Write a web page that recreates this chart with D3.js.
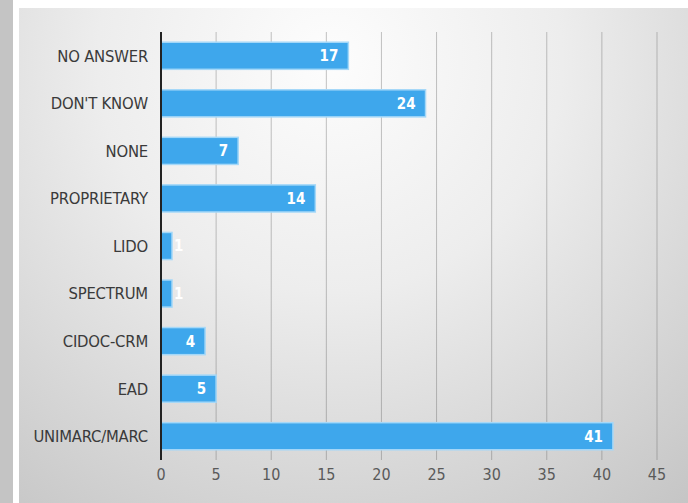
<!DOCTYPE html>
<html>
<head>
<meta charset="utf-8">
<script src="https://cdn.jsdelivr.net/npm/d3@7"></script>
<style>
  body { margin: 0; background: #fff; }
  svg { display: block; }
</style>
</head>
<body>
<div id="chart"></div>
<script>
var categories = ["NO ANSWER", "DON'T KNOW", "NONE", "PROPRIETARY", "LIDO", "SPECTRUM", "CIDOC-CRM", "EAD", "UNIMARC/MARC"];
var counts = [17, 24, 7, 14, 1, 1, 4, 5, 41];
var ticks = [0, 5, 10, 15, 20, 25, 30, 35, 40, 45];

var W = 688, H = 503;

var svg = d3.select("#chart")
  .append("svg")
  .attr("width", W)
  .attr("height", H);

// slide background: radial glow fading to grey
var defs = svg.append("defs");
var grad = defs.append("radialGradient")
  .attr("id", "bg")
  .attr("gradientUnits", "userSpaceOnUse")
  .attr("cx", 330).attr("cy", 60).attr("r", 580);
grad.append("stop").attr("offset", "0%").attr("stop-color", "#fdfdfd");
grad.append("stop").attr("offset", "40%").attr("stop-color", "#ededed");
grad.append("stop").attr("offset", "100%").attr("stop-color", "#c4c4c4");

svg.append("rect").attr("x", 0).attr("y", 0).attr("width", W).attr("height", H).style("fill", "#fff");
svg.append("rect").attr("x", 19).attr("y", 8).attr("width", W - 19).attr("height", H - 8).style("fill", "url(#bg)");
svg.append("rect").attr("x", 0).attr("y", 0).attr("width", 13).attr("height", H).style("fill", "#c4c4c4");

var x = d3.scaleLinear().domain([0, 45]).range([161, 657]);
var y = d3.scaleBand().domain(categories).range([32, 460]).paddingInner(0.43).paddingOuter(0.215);

// grid lines
svg.selectAll(".grid")
  .data(ticks.slice(1))
  .enter().append("line")
  .attr("x1", function(d) { return x(d); })
  .attr("x2", function(d) { return x(d); })
  .attr("y1", 32)
  .attr("y2", 460)
  .style("stroke", "#555")
  .style("stroke-opacity", 0.35)
  .style("stroke-width", 1);

// bars
svg.selectAll(".bar")
  .data(counts)
  .enter().append("rect")
  .attr("x", x(0))
  .attr("y", function(d, i) { return y(categories[i]); })
  .attr("width", function(d) { return x(d) - x(0); })
  .attr("height", y.bandwidth())
  .style("fill", "#3ea7ec")
  .style("stroke", "#a5d8f8")
  .style("stroke-width", 1.5);

// zero axis
svg.append("line")
  .attr("x1", x(0)).attr("x2", x(0))
  .attr("y1", 32).attr("y2", 460)
  .style("stroke", "#222")
  .style("stroke-width", 2);

// value labels
svg.selectAll(".val")
  .data(counts)
  .enter().append("text")
  .attr("x", function(d) {
    if (x(d) - x(0) < 25) {
      return x(d) + 2;
    }
    return x(d) - 10;
  })
  .attr("y", function(d, i) { return y(categories[i]) + y.bandwidth() / 2; })
  .attr("dy", ".36em")
  .style("text-anchor", function(d) {
    return (x(d) - x(0) < 25) ? "start" : "end";
  })
  .style("fill", "white")
  .style("font-family", "'DejaVu Sans Condensed', sans-serif")
  .style("font-weight", "bold")
  .style("font-size", "15px")
  .text(function(d) { return d; });

// category labels
svg.selectAll(".cat")
  .data(categories)
  .enter().append("text")
  .attr("x", 148)
  .attr("y", function(d) { return y(d) + y.bandwidth() / 2; })
  .attr("dy", ".36em")
  .style("text-anchor", "end")
  .style("fill", "#3a3a3a")
  .style("font-family", "'DejaVu Sans Condensed', sans-serif")
  .style("font-size", "16.5px")
  .style("letter-spacing", "-0.2px")
  .text(function(d) { return d; });

// x axis tick labels
svg.selectAll(".tick")
  .data(ticks)
  .enter().append("text")
  .attr("x", function(d) { return x(d); })
  .attr("y", 474)
  .attr("dy", ".36em")
  .style("text-anchor", "middle")
  .style("fill", "#5a5a5a")
  .style("font-family", "'DejaVu Sans Condensed', sans-serif")
  .style("font-size", "16px")
  .text(function(d) { return d; });
</script>
</body>
</html>
